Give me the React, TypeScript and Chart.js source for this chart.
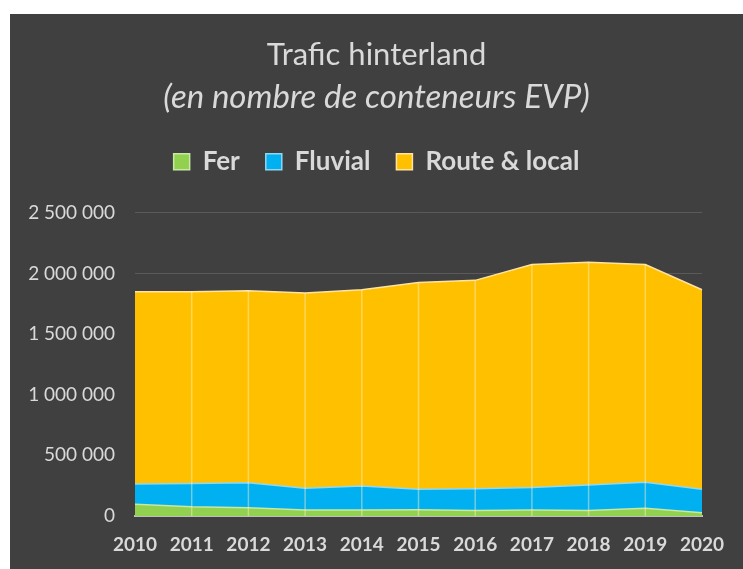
import React, { useEffect, useRef } from 'react';
import { Chart, registerables, layouts } from 'chart.js';

Chart.register(...registerables);

const years = ['2010', '2011', '2012', '2013', '2014', '2015', '2016', '2017', '2018', '2019', '2020'];
const fer = [97000, 77000, 69000, 50000, 50000, 52000, 45000, 50000, 45000, 63000, 27000];
const fluvial = [167000, 192000, 206000, 178000, 198000, 168000, 180000, 184000, 211000, 215000, 193000];
const route = [1585000, 1581000, 1582000, 1610000, 1618000, 1706000, 1718000, 1839000, 1836000, 1795000, 1646000];
const yTicks = [0, 500000, 1000000, 1500000, 2000000, 2500000];
const seriesNames = ['Fer', 'Fluvial', 'Route & local'];
const titleText = 'Trafic hinterland';
const subtitleText = '(en nombre de conteneurs EVP)';

const FONT = 'Lato';
const TEXT = '#d9d9d9';

const fmt = (v: number) => String(v).replace(/\B(?=(\d{3})+(?!\d))/g, ' ');

function makeBox(position: string, size: number, fullSize: boolean, weight: number) {
  return {
    position,
    weight,
    fullSize,
    options: {},
    top: 0, left: 0, bottom: 0, right: 0, width: 0, height: 0,
    update(maxWidth: number, maxHeight: number) {
      if (position === 'top' || position === 'bottom') {
        this.width = maxWidth;
        this.height = size;
      } else {
        this.width = size;
        this.height = maxHeight;
      }
    },
    isHorizontal() { return position === 'top' || position === 'bottom'; },
    draw() {},
  };
}

const spacerPlugin = {
  id: 'spacers',
  beforeInit(chart: any) {
    layouts.addBox(chart, makeBox('top', 28, true, 500) as any);
    layouts.addBox(chart, makeBox('right', 41, false, 500) as any);
  },
};

const verticalLines = {
  id: 'verticalLines',
  afterDatasetsDraw(chart: any) {
    const xs = chart.scales.x;
    const ys = chart.scales.y;
    const meta = chart.getDatasetMeta(chart.data.datasets.length - 1);
    const ctx = chart.ctx;
    ctx.save();
    ctx.strokeStyle = 'rgba(255,240,200,0.45)';
    ctx.lineWidth = 1.5;
    for (let i = 1; i < years.length - 1; i++) {
      const px = xs.getPixelForValue(i);
      const py = meta.data[i].y;
      ctx.beginPath();
      ctx.moveTo(px, py);
      ctx.lineTo(px, ys.getPixelForValue(0));
      ctx.stroke();
    }
    ctx.restore();
  },
};

export default function App() {
  const ref = useRef<HTMLCanvasElement>(null);
  useEffect(() => {
    if (!ref.current) return;
    const chart = new Chart(ref.current, {
      type: 'line',
      data: {
        labels: years,
        datasets: [
          {
            label: seriesNames[0], data: fer, backgroundColor: '#92d050', borderColor: '#c8e8a4',
            borderWidth: 1.5, fill: 'origin', pointRadius: 0, tension: 0,
          },
          {
            label: seriesNames[1], data: fluvial, backgroundColor: '#00b0f0', borderColor: '#8fd8f2',
            borderWidth: 1.5, fill: '-1', pointRadius: 0, tension: 0,
          },
          {
            label: seriesNames[2], data: route, backgroundColor: '#ffc000', borderColor: '#ffe3a0',
            borderWidth: 1.5, fill: '-1', pointRadius: 0, tension: 0,
          },
        ],
      },
      options: {
        responsive: false,
        animation: false,
        layout: { padding: 0 },
        plugins: {
          title: {
            display: true, text: titleText, color: TEXT,
            font: { family: FONT, size: 31, weight: 'normal' },
            padding: { top: 22, bottom: 4 },
          },
          subtitle: {
            display: true, text: subtitleText, color: TEXT,
            font: { family: FONT, size: 33, style: 'italic', weight: 'normal' },
            padding: { top: 0, bottom: 6 },
          },
          legend: {
            position: 'top',
            labels: {
              color: TEXT, boxWidth: 16, boxHeight: 16, padding: 26,
              font: { family: FONT, size: 26, weight: 'bold' },
            },
          },
          tooltip: { enabled: false },
        },
        scales: {
          x: {
            grid: { display: false, drawTicks: false },
            border: { display: true, color: '#bfbfbf', width: 2 },
            ticks: { color: TEXT, font: { family: FONT, size: 19, weight: 'bold' }, padding: 17, maxRotation: 0 },
            afterFit: (s: any) => { s.height = 53; },
          },
          y: {
            stacked: true,
            min: 0, max: 2500000,
            afterBuildTicks: (s: any) => { s.ticks = yTicks.map((v) => ({ value: v })); },
            grid: { color: '#5a5a5a', lineWidth: 1, drawTicks: false },
            border: { display: false },
            ticks: {
              color: TEXT, font: { family: FONT, size: 19 }, padding: 20,
              callback: (v: any) => fmt(Number(v)),
            },
            afterFit: (s: any) => { s.width = 125; },
          },
        },
      },
      plugins: [spacerPlugin, verticalLines],
    } as any);
    return () => chart.destroy();
  }, []);
  return (
    <div style={{ position: 'absolute', left: 10, top: 14, width: 733, height: 555, background: '#404040' }}>
      <canvas ref={ref} width={733} height={555} style={{ display: 'block' }} />
    </div>
  );
}
